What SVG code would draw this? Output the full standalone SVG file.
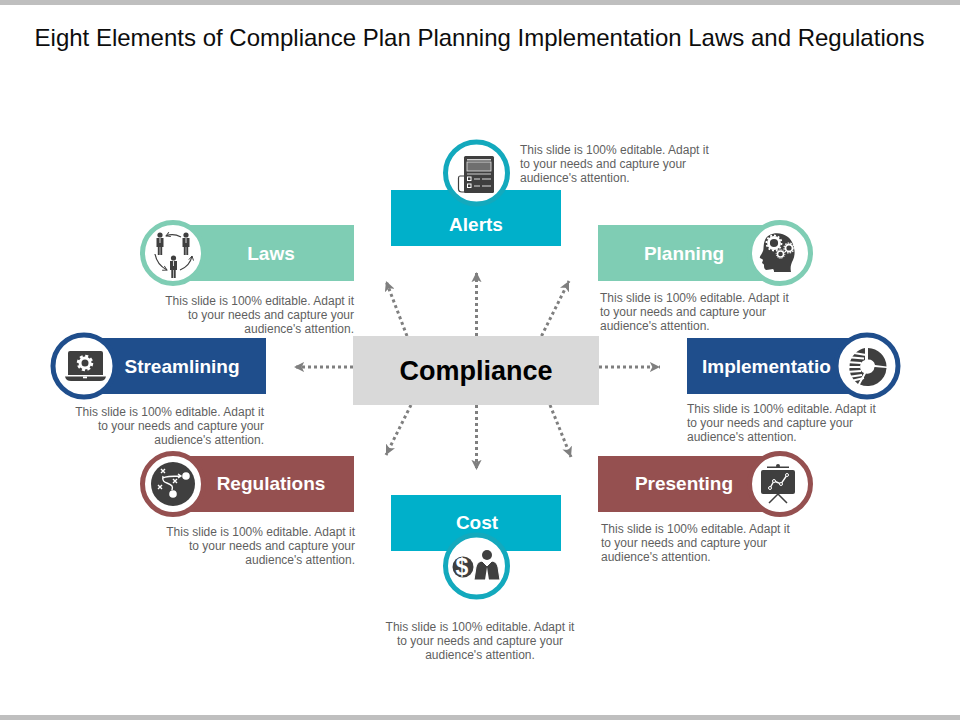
<svg xmlns="http://www.w3.org/2000/svg" xmlns:xlink="http://www.w3.org/1999/xlink" width="960" height="720" viewBox="0 0 960 720">
<style>
text{font-family:"Liberation Sans",Arial,sans-serif}
.title{font-size:24px;fill:#0d0d0d;text-anchor:middle}
.lab{font-size:19px;font-weight:bold;fill:#fff;text-anchor:middle}
.d{font-size:12px;fill:#5f5f5f}
.e{text-anchor:end}.m{text-anchor:middle}
.conn{fill:none;stroke:#7f7f7f;stroke-width:3;stroke-dasharray:3 3;marker-end:url(#ah)}
.ic{fill:#3f3f3f}
.w{fill:#fff}
.wl{fill:none;stroke:#fff;stroke-width:1.4}
.dl{fill:none;stroke:#3f3f3f;stroke-width:1.2}
</style>
<defs>
<marker id="ah" viewBox="0 0 10 10" refX="10" refY="5" markerWidth="3.4" markerHeight="3.4" orient="auto"><path d="M0 0L10 5L0 10L2.5 5Z" fill="#7f7f7f"/></marker>
<marker id="sa" viewBox="0 0 10 10" refX="8" refY="5" markerWidth="5" markerHeight="5" orient="auto"><path d="M1 1L8 5L1 9" fill="none" stroke="#3f3f3f" stroke-width="1.5"/></marker>
<g id="person"><circle cx="0" cy="-9" r="2.6" class="ic"/><path class="ic" d="M-3.500 -6H3.500V3H2.200V11H.3V3H-.3V11H-2.200V3H-3.500Z"/><path d="M0 -6V-1" stroke="#fff" stroke-width=".8"/></g>
</defs>
<rect width="960" height="720" fill="#fff"/>
<rect width="960" height="5" fill="#bfbfbf"/>
<rect y="715" width="960" height="5" fill="#bfbfbf"/>
<text class="title" x="479.500" y="46">Eight Elements of Compliance Plan Planning Implementation Laws and Regulations</text>

<g id="connectors">
<path class="conn" d="M407 336L386 281"/>
<path class="conn" d="M476.500 336V272"/>
<path class="conn" d="M541.500 336L569 281"/>
<path class="conn" d="M353 367H294"/>
<path class="conn" d="M599 367H660"/>
<path class="conn" d="M411 405L386 455"/>
<path class="conn" d="M476.500 405V470"/>
<path class="conn" d="M550 405L571 457"/>
</g>

<g id="compliance"><rect x="353" y="336" width="246" height="69" fill="#d9d9d9"/><text x="476" y="380" font-size="27" font-weight="bold" fill="#000" text-anchor="middle">Compliance</text></g>

<g id="alerts">
<rect x="391" y="190" width="170" height="56" fill="#00b0ca"/>
<circle cx="476.500" cy="173" r="31" fill="#fff" stroke="#13a9bd" stroke-width="5"/>
<text class="lab" x="476" y="231">Alerts</text>
<path class="dl" d="M464 176H460Q458.500 176 458.500 178V189Q458.500 192 462 192H465"/>
<rect class="ic" x="464" y="156" width="30" height="37" rx="1.500"/>
<rect x="467" y="159" width="24" height="1.500" fill="#d0d0d0"/>
<rect x="467" y="162" width="24" height="9" fill="#6f6f6f" stroke="#e6e6e6" stroke-width=".8"/>
<rect x="467" y="173.500" width="24" height="1" fill="#d0d0d0"/>
<rect x="467.500" y="177" width="3.500" height="3.500" fill="none" stroke="#fff"/><rect x="467.500" y="184" width="3.500" height="3.500" fill="none" stroke="#fff"/>
<path d="M474 179H480M474 186H480M482 179H491M482 186H491" stroke="#ddd" stroke-width="1"/>
<text class="d" x="520" y="154">This slide is 100% editable. Adapt it</text>
<text class="d" x="520" y="168">to your needs and capture your</text>
<text class="d" x="520" y="182">audience's attention.</text>
</g>

<g id="laws">
<rect x="190" y="225" width="164" height="56" fill="#7fcdb4"/>
<circle cx="173" cy="253" r="30.500" fill="#fff" stroke="#7fcdb4" stroke-width="5"/>
<text class="lab" x="271" y="260">Laws</text>
<use xlink:href="#person" href="#person" x="160" y="244"/><use xlink:href="#person" href="#person" x="186" y="244"/><use xlink:href="#person" href="#person" x="173.500" y="267"/>
<path class="dl" marker-end="url(#sa)" d="M181 237Q173 233 166 236"/>
<path class="dl" marker-end="url(#sa)" d="M155 254Q157 265 167 270"/>
<path class="dl" marker-end="url(#sa)" d="M180 270Q190 266 192 256"/>
<text class="d e" x="354" y="305">This slide is 100% editable. Adapt it</text>
<text class="d e" x="354" y="319">to your needs and capture your</text>
<text class="d e" x="354" y="333">audience's attention.</text>
</g>

<g id="planning">
<rect x="598" y="225" width="172" height="56" fill="#7fcdb4"/>
<circle cx="780" cy="253" r="30.500" fill="#fff" stroke="#7fcdb4" stroke-width="5"/>
<text class="lab" x="684" y="260">Planning</text>
<path class="ic" d="M791 272C790 267 791 264 793 260C796 254 795 243 788 237C781 231 768 232 765 240C763 245 764 249 763 251C762 254 759 257 760 258C761 259 763 259 763 260L762 263C763 264 764 264 764 265C764 267 764 269 766 270C769 270 771 269 773 269C774 270 774 271 774 272Z"/>
<circle cx="774" cy="243" r="5.500" fill="none" stroke="#fff" stroke-width="2.800"/><circle cx="774" cy="243" r="7.500" fill="none" stroke="#fff" stroke-width="1.800" stroke-dasharray="2 1.900"/>
<circle cx="789" cy="248" r="3.500" fill="none" stroke="#fff" stroke-width="1.800"/><circle cx="789" cy="248" r="5" fill="none" stroke="#fff" stroke-width="1.200" stroke-dasharray="1.500 1.200"/>
<circle cx="780.500" cy="254" r="3" fill="none" stroke="#fff" stroke-width="1.500"/><circle cx="780.500" cy="254" r="4.300" fill="none" stroke="#fff" stroke-width="1" stroke-dasharray="1.200 1"/>
<text class="d" x="600" y="302">This slide is 100% editable. Adapt it</text>
<text class="d" x="600" y="316">to your needs and capture your</text>
<text class="d" x="600" y="330">audience's attention.</text>
</g>

<g id="streamlining">
<rect x="85" y="338" width="181" height="56" fill="#1f4e8c"/>
<circle cx="84" cy="366" r="31" fill="#fff" stroke="#1f4e8c" stroke-width="5"/>
<text class="lab" x="182" y="373">Streamlining</text>
<path class="ic" d="M70 351H101Q103 351 103 353V375H68V353Q68 351 70 351Z"/>
<path class="ic" d="M65 376.500H106Q105 381 100 381H71Q66 381 65 376.500Z"/>
<circle cx="85" cy="363" r="5" fill="none" stroke="#fff" stroke-width="3"/><circle cx="85" cy="363" r="7" fill="none" stroke="#fff" stroke-width="2.500" stroke-dasharray="3 2.500"/>
<rect x="83" y="376.500" width="4" height="1.800" fill="#fff"/>
<text class="d e" x="264" y="416">This slide is 100% editable. Adapt it</text>
<text class="d e" x="264" y="430">to your needs and capture your</text>
<text class="d e" x="264" y="444">audience's attention.</text>
</g>

<g id="implementation">
<rect x="687" y="338" width="173" height="56" fill="#1f4e8c"/>
<text class="lab" x="702" y="373" style="text-anchor:start">Implementatio</text>
<circle cx="867" cy="366" r="31" fill="#fff" stroke="#1f4e8c" stroke-width="5"/>
<path class="ic" d="M868 348A19 19 0 0 1 886.500 366.500L875 365A7 7 0 0 0 868 359.500Z"/>
<path class="ic" d="M886.500 368A19 19 0 0 1 860 384.500L866 373.500A7 7 0 0 0 874.500 367Z"/>
<path class="ic" d="M865 348A20 20 0 0 0 858 384L864 373A7 7 0 0 1 865 360Z"/>
<path d="M848 352L866 355M846 357L864 358.500M846 362L861 363M846 367L860 367M846 372L861 371M848 377L862 375M851 381L864 378" stroke="#fff" stroke-width="1.800" fill="none"/>
<text class="d" x="687" y="413">This slide is 100% editable. Adapt it</text>
<text class="d" x="687" y="427">to your needs and capture your</text>
<text class="d" x="687" y="441">audience's attention.</text>
</g>

<g id="regulations">
<rect x="175" y="456" width="179" height="56" fill="#955050"/>
<circle cx="173" cy="484" r="30.500" fill="#fff" stroke="#955050" stroke-width="5"/>
<text class="lab" x="271" y="490">Regulations</text>
<circle class="ic" cx="173" cy="484" r="22"/>
<circle class="w" cx="186" cy="476" r="3.800"/><circle class="w" cx="173" cy="494" r="3.800"/>
<path class="wl" d="M161 469L165 473M165 469L161 473M158 485L162 489M162 485L158 489M173 479L177 483M177 479L173 483"/>
<path class="wl" d="M163 476C161 484 169 482 172 486C173 488 172 489 172 490M163 478Q166 476 181 476M178 474L181 476L178 478"/>
<text class="d e" x="355" y="536">This slide is 100% editable. Adapt it</text>
<text class="d e" x="355" y="550">to your needs and capture your</text>
<text class="d e" x="355" y="564">audience's attention.</text>
</g>

<g id="presenting">
<rect x="598" y="456" width="182" height="56" fill="#955050"/>
<circle cx="780" cy="484" r="30.500" fill="#fff" stroke="#955050" stroke-width="5"/>
<text class="lab" x="684" y="490">Presenting</text>
<rect class="ic" x="761" y="470" width="34" height="24" rx="2"/>
<rect class="ic" x="767" y="466.500" width="22" height="1.500"/><circle class="ic" cx="778" cy="466" r="2"/>
<path d="M778 494L769 503M778 494L787 503" stroke="#3f3f3f" stroke-width="1.500"/>
<path class="wl" d="M770 488L774 481L781 484L787 475"/>
<g fill="#3f3f3f" stroke="#fff"><circle cx="770" cy="488" r="1.500"/><circle cx="774" cy="481" r="1.500"/><circle cx="781" cy="484" r="1.500"/><circle cx="787" cy="475" r="1.500"/></g>
<text class="d" x="601" y="533">This slide is 100% editable. Adapt it</text>
<text class="d" x="601" y="547">to your needs and capture your</text>
<text class="d" x="601" y="561">audience's attention.</text>
</g>

<g id="cost">
<rect x="391" y="495" width="170" height="56" fill="#00b0ca"/>
<circle cx="476.500" cy="566" r="31" fill="#fff" stroke="#13a9bd" stroke-width="5"/>
<text class="lab" x="477" y="529">Cost</text>
<circle class="ic" cx="463" cy="567" r="10.500"/>
<text x="462" y="575" font-size="23" font-weight="bold" fill="#fff" text-anchor="middle">$</text>
<circle class="ic" cx="487" cy="555" r="5"/>
<path class="ic" d="M482 561L487 566L492 561C496 562 497 564 498 567L500 580H474L476 567C477 564 478 562 482 561Z" stroke="#fff" stroke-width="1"/>
<path d="M487 567L485 580H489Z" fill="#fff"/>
<text class="d m" x="480" y="631">This slide is 100% editable. Adapt it</text>
<text class="d m" x="480" y="645">to your needs and capture your</text>
<text class="d m" x="480" y="659">audience's attention.</text>
</g>
</svg>
